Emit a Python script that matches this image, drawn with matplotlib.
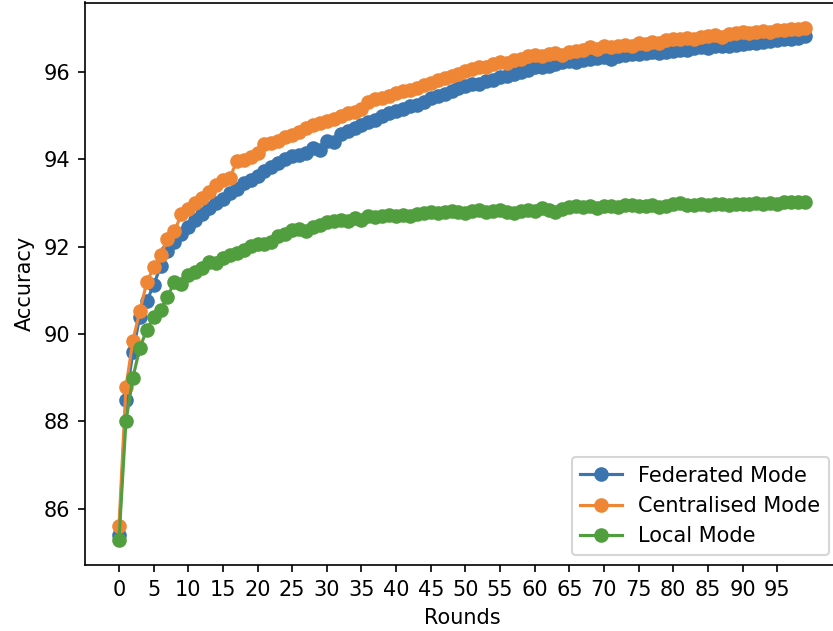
import matplotlib
matplotlib.use('Agg')
import matplotlib.pyplot as plt
import numpy as np

# 各ラウンドの精度
rounds = np.arange(100)

federated = [
    85.40, 88.50, 89.58, 90.40, 90.75, 91.12, 91.55, 91.90, 92.10, 92.30,
    92.45, 92.62, 92.75, 92.88, 93.00, 93.08, 93.22, 93.32, 93.45, 93.52,
    93.62, 93.72, 93.83, 93.92, 94.00, 94.07, 94.10, 94.15, 94.25, 94.20,
    94.42, 94.40, 94.58, 94.65, 94.72, 94.78, 94.85, 94.90, 94.98, 95.05,
    95.10, 95.15, 95.22, 95.25, 95.32, 95.40, 95.45, 95.50, 95.55, 95.62,
    95.68, 95.72, 95.72, 95.78, 95.82, 95.88, 95.90, 95.95, 96.00, 96.05,
    96.10, 96.12, 96.14, 96.18, 96.22, 96.24, 96.22, 96.28, 96.30, 96.32,
    96.33, 96.30, 96.36, 96.38, 96.40, 96.40, 96.42, 96.45, 96.44, 96.46,
    96.48, 96.50, 96.50, 96.55, 96.56, 96.55, 96.58, 96.60, 96.60, 96.62,
    96.64, 96.66, 96.66, 96.69, 96.70, 96.72, 96.74, 96.76, 96.78, 96.82,
]

centralised = [
    85.60, 88.78, 89.85, 90.52, 91.18, 91.53, 91.80, 92.17, 92.35, 92.74,
    92.85, 93.00, 93.12, 93.25, 93.40, 93.52, 93.58, 93.95, 93.98, 94.05,
    94.15, 94.35, 94.38, 94.42, 94.50, 94.55, 94.62, 94.72, 94.78, 94.82,
    94.88, 94.92, 94.98, 95.05, 95.08, 95.15, 95.32, 95.38, 95.40, 95.45,
    95.52, 95.55, 95.58, 95.62, 95.70, 95.75, 95.82, 95.86, 95.90, 95.96,
    96.02, 96.06, 96.10, 96.12, 96.18, 96.22, 96.20, 96.26, 96.30, 96.35,
    96.38, 96.36, 96.40, 96.42, 96.38, 96.45, 96.48, 96.50, 96.56, 96.52,
    96.58, 96.56, 96.60, 96.62, 96.58, 96.66, 96.64, 96.68, 96.66, 96.72,
    96.74, 96.76, 96.78, 96.76, 96.80, 96.82, 96.84, 96.80, 96.86, 96.88,
    96.90, 96.88, 96.92, 96.94, 96.92, 96.96, 96.95, 96.97, 96.98, 97.00,
]

local = [
    85.30, 88.00, 89.00, 89.68, 90.10, 90.38, 90.56, 90.85, 91.20, 91.15,
    91.35, 91.42, 91.52, 91.65, 91.62, 91.75, 91.80, 91.85, 91.92, 92.02,
    92.05, 92.05, 92.10, 92.25, 92.28, 92.38, 92.40, 92.35, 92.45, 92.50,
    92.56, 92.58, 92.62, 92.58, 92.65, 92.62, 92.70, 92.68, 92.70, 92.72,
    92.70, 92.72, 92.70, 92.75, 92.78, 92.80, 92.78, 92.80, 92.82, 92.80,
    92.76, 92.82, 92.84, 92.80, 92.82, 92.84, 92.80, 92.78, 92.82, 92.84,
    92.82, 92.88, 92.84, 92.80, 92.86, 92.90, 92.92, 92.90, 92.92, 92.88,
    92.92, 92.94, 92.90, 92.95, 92.96, 92.92, 92.94, 92.96, 92.90, 92.94,
    92.98, 93.00, 92.96, 92.95, 92.98, 92.96, 92.98, 92.97, 92.96, 92.98,
    92.97, 92.98, 93.00, 92.98, 93.00, 92.98, 93.02, 93.03, 93.02, 93.03,
]

labels = ["Federated Mode", "Centralised Mode", "Local Mode"]
colors = ["#3b75af", "#ef8636", "#519e3e"]


def main():
    dpi = 150
    fig = plt.figure(figsize=(833 / dpi, 631 / dpi), dpi=dpi)
    # 右端は元画像で切れているので軸も少しはみ出させる
    ax = fig.add_axes([84.7 / 833, 65.9 / 631, 754.5 / 833, 562.6 / 631])

    for series, label, c in zip([federated, centralised, local], labels, colors):
        ax.plot(rounds, series, marker="o", color=c, label=label)

    ax.set_xticks(np.arange(0, 100, 5))
    ax.set_xlabel("Rounds")
    ax.set_ylabel("Accuracy")
    ax.legend(loc="lower right")

    fig.savefig("out.png", dpi=dpi)


if __name__ == "__main__":
    main()
